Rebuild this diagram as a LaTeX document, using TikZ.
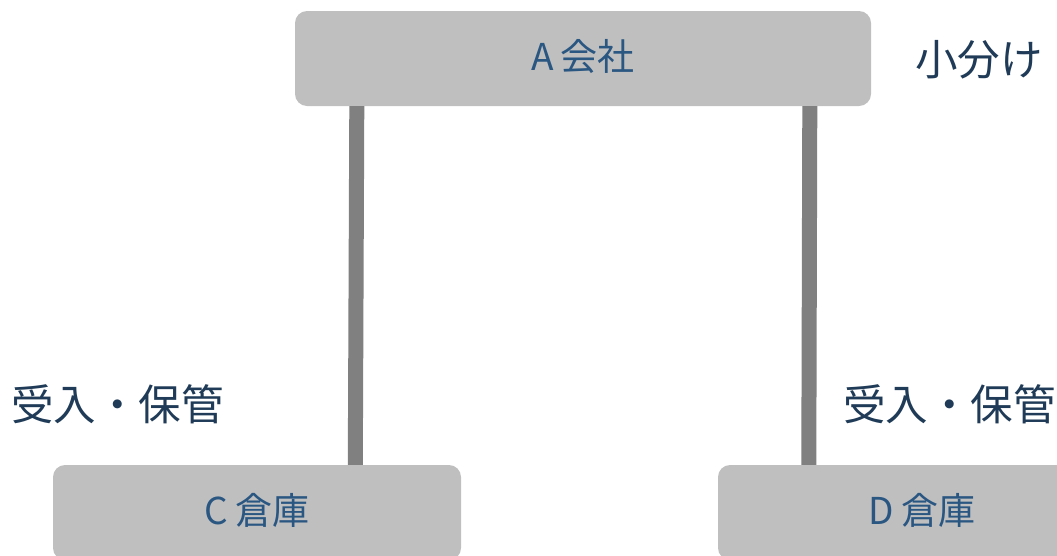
\documentclass[tikz,border=0pt]{standalone}
\usepackage{fontspec}
\setmainfont{Noto Sans CJK JP}
\usetikzlibrary{calc}
\definecolor{boxfill}{HTML}{BFBFBF}
\definecolor{linegray}{HTML}{808080}
\definecolor{boxtext}{HTML}{2A5682}
\definecolor{labeltext}{HTML}{1F3B57}
\newcommand{\lat}[1]{#1\hspace{7pt}}
\begin{document}
\begin{tikzpicture}[x=1pt,y=-1pt,
  box/.style={fill=boxfill, draw=none, rounded corners=12pt, inner sep=0pt, text=boxtext, font=\fontsize{37}{42}\selectfont},
  conn/.style={draw=linegray, line width=15pt},
  lbl/.style={anchor=west, inner sep=0pt, text=labeltext, font=\fontsize{42.5}{48}\selectfont}]
\useasboundingbox (0,0) rectangle (1057,555);
\clip (0,0) rectangle (1057,555);
\node[box, minimum width=576pt, minimum height=95pt] (A) at (583,58.5) {\raisebox{8pt}{\lat{A}会社}};
\node[box, minimum width=408pt, minimum height=95pt] (C) at (257,512.5) {\raisebox{8pt}{\lat{C}倉庫}};
\node[box, minimum width=408pt, minimum height=95pt] (D) at (922,512.5) {\raisebox{8pt}{\lat{D}倉庫}};
\draw[conn] ($(A.south west)+(62,0)$) -- ($(C.north west)+(302.5,0)$);
\draw[conn] ($(A.south west)+(515,0)$) -- ($(D.north west)+(91,0)$);
\node[lbl] (L1) at (915,60) {小分け};
\node[lbl] (L2) at (11,404) {受入・保管};
\node[lbl] (L3) at (843,404) {受入・保管};
\end{tikzpicture}
\end{document}
